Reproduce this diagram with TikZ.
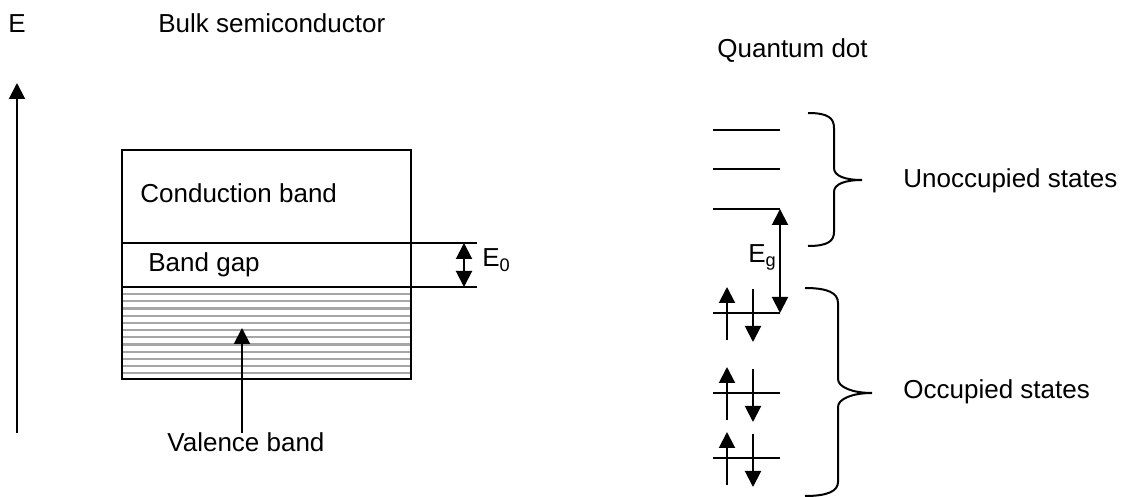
\documentclass[tikz,border=0pt]{standalone}
\usepackage{fontspec}
\setmainfont{Liberation Sans}
\usetikzlibrary{arrows.meta, positioning, calc}

\begin{document}
\begin{tikzpicture}[
  x=0.5pt, y=-0.5pt,
  lbl/.style={inner sep=0pt, anchor=base west, font=\fontsize{13}{15.6}\selectfont},
  line/.style={line width=1pt},
  arr/.style={line width=1pt, -{Triangle[length=8pt, width=8pt]}},
  dblarr/.style={line width=1pt, {Triangle[length=8pt, width=8pt]}-{Triangle[length=8pt, width=8pt]}},
  hatch/.style={gray!70, line width=1.1pt},
  ]
  \useasboundingbox (0,0) rectangle (1121,497);

  % headings and energy axis
  \node[lbl] (E) at (8,33) {E};
  \node[lbl] (bulk) at (158,33) {Bulk semiconductor};
  \node[lbl] (qd) at (717,58) {Quantum dot};
  \coordinate (axb) at (17,433);
  \coordinate (axt) at (17,83);
  \draw[arr] (axb) -- (axt);

  % bulk bands
  \coordinate (cbtl) at (122,150);
  \coordinate (vbbr) at (411,379);
  \coordinate (gapt) at (411,243);
  \coordinate (gapb) at (411,287);
  \foreach \k in {1,...,12}
    \draw[hatch] (122,{287+7.2*\k}) -- (411,{287+7.2*\k});
  \draw[line] (cbtl) rectangle (vbbr);
  \draw[line] (cbtl |- gapt) -- (gapt) -- ++(66,0) coordinate (e0t);
  \draw[line] (cbtl |- gapb) -- (gapb) -- ++(66,0) coordinate (e0b);
  \draw[dblarr] ($(e0t)+(-13,0)$) -- ($(e0b)+(-13,0)$);
  \node[lbl] (cb) at (140,203) {Conduction band};
  \node[lbl] (bg) at (148,272) {Band gap};
  \node[lbl] (e0) at (482,267) {E\textsubscript{0}};
  \node[lbl] (vb) at (167,452) {Valence band};
  \coordinate (vbpt) at (242,328);
  \draw[arr] (vb.north -| vbpt) -- (vbpt);

  % quantum dot levels
  \foreach \y [count=\i] in {130,169,209} {
    \coordinate (un\i w) at (713,\y);
    \coordinate (un\i e) at (780,\y);
    \draw[line] (un\i w) -- (un\i e);
  }
  \foreach \y [count=\i] in {313,393,458} {
    \coordinate (oc\i w) at (713,\y);
    \coordinate (oc\i e) at (780,\y);
    \draw[line] (oc\i w) -- (oc\i e);
    \draw[arr] ([shift={(14,27)}]oc\i w) -- ([shift={(14,-26)}]oc\i w);
    \draw[arr] ([shift={(40,-24)}]oc\i w) -- ([shift={(40,29)}]oc\i w);
  }
  \draw[dblarr] (un3e) -- (oc1e);
  \node[lbl] (eg) at (748,263) {E\textsubscript{g}};

  % braces
  \draw[line] (808,113) .. controls (828,113) and (834,118) .. (834,128)
    -- (834,168) .. controls (834,176) and (845,180) .. (862,180)
    .. controls (845,180) and (834,184) .. (834,192)
    -- (834,232) .. controls (834,241) and (828,246) .. (808,246);
  \draw[line] (805,288) .. controls (828,288) and (838,293) .. (838,303)
    -- (838,379) .. controls (838,387) and (852,393) .. (872,393)
    .. controls (852,393) and (838,399) .. (838,407)
    -- (838,482) .. controls (838,491) and (828,496) .. (805,496);
  \node[lbl] (unocc) at (903,188) {Unoccupied states};
  \node[lbl] (occ) at (903,399) {Occupied states};
\end{tikzpicture}
\end{document}
